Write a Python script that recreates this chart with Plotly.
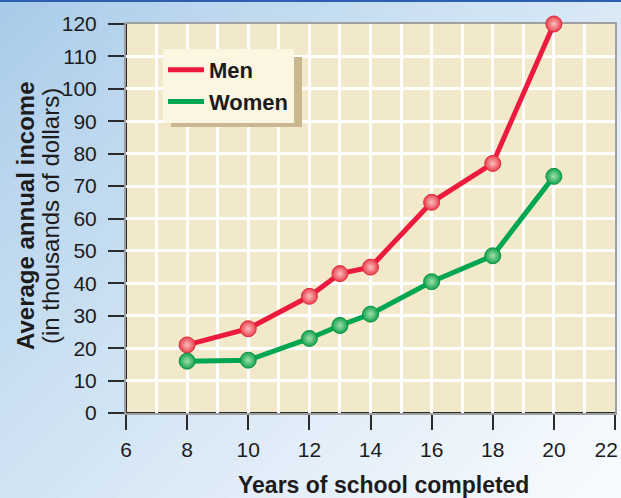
import plotly.graph_objects as go

years = [8, 10, 12, 13, 14, 16, 18, 20]
men = [21, 26, 36, 43, 45, 65, 77, 120]
women = [16, 16.3, 23, 27, 30.5, 40.5, 48.5, 73]
x_ticks = [6, 8, 10, 12, 14, 16, 18, 20, 22]
x_labels = ["6", "8", "10", "12", "14", "16", "18", "20", "22\u00a0\u00a0\u00a0"]
y_ticks = [0, 10, 20, 30, 40, 50, 60, 70, 80, 90, 100, 110, 120]

W, H = 621, 498
L, R, T, B = 126, 6, 24, 85
PW, PH = W - L - R, H - T - B


def px(x):
    return (x - L) / PW


def py(y):
    return (H - B - y) / PH


def lerp(c1, c2, t):
    return "#%02x%02x%02x" % tuple(int(round(a + (b - a) * t)) for a, b in zip(c1, c2))


shapes = []
# diagonal gradient background
N = 40
cmax = W + H
c_start = (168, 203, 233)
c_end = (248, 251, 254)
for i in range(N):
    c0 = cmax * i / N - 2
    c1 = cmax * (i + 1) / N + 2
    t = min(1.0, (i / (N - 1)) ** 0.85)
    col = lerp(c_start, c_end, t)
    pts = [(c0, 0), (c1, 0), (c1 - 700, 700), (c0 - 700, 700)]
    path = "M " + " L ".join(f"{px(a):.5f},{py(b):.5f}" for a, b in pts) + " Z"
    shapes.append(dict(type="path", xref="paper", yref="paper", path=path,
                       fillcolor=col, line=dict(width=0), layer="below"))
# top blue rule
shapes.append(dict(type="rect", xref="paper", yref="paper", x0=px(0), x1=px(W),
                   y0=py(2), y1=py(0), fillcolor="#2d5fae", line=dict(width=0), layer="below"))
# plot area bg
shapes.append(dict(type="rect", xref="paper", yref="paper", x0=0, x1=1, y0=0, y1=1,
                   fillcolor="#f1e9c9", line=dict(width=0), layer="below"))
# legend shadow
shapes.append(dict(type="rect", xref="paper", yref="paper", x0=px(171), x1=px(302),
                   y0=py(127), y1=py(57), fillcolor="#c9b78f", line=dict(width=0), layer="above"))
# dark left and bottom axis lines
shapes.append(dict(type="line", xref="paper", yref="paper", x0=0, x1=0, y0=0, y1=1,
                   line=dict(color="#2b2b2b", width=2), layer="below"))
shapes.append(dict(type="line", xref="paper", yref="paper", x0=0, x1=1, y0=0, y1=0,
                   line=dict(color="#2b2b2b", width=2), layer="below"))

MEN_C, WOMEN_C = "#ec1b3e", "#00a651"

fig = go.Figure()
fig.add_trace(go.Scatter(
    x=years, y=men, name="Men", mode="lines+markers", cliponaxis=False, showlegend=False,
    line=dict(color=MEN_C, width=5),
    marker=dict(size=16, color="#ea3f4c", line=dict(color="#e02a3c", width=1),
                gradient=dict(type="radial", color="#fcc0c0")),
))
fig.add_trace(go.Scatter(
    x=years, y=women, name="Women", mode="lines+markers", cliponaxis=False, showlegend=False,
    line=dict(color=WOMEN_C, width=5),
    marker=dict(size=16, color="#13a24c", line=dict(color="#0a9444", width=1),
                gradient=dict(type="radial", color="#a3e0b0")),
))
# legend entries (line only)
fig.add_trace(go.Scatter(x=[None], y=[None], name="<b>Men</b>", mode="lines",
                         line=dict(color=MEN_C, width=5)))
fig.add_trace(go.Scatter(x=[None], y=[None], name="<b>Women</b>", mode="lines",
                         line=dict(color=WOMEN_C, width=5)))

font_fam = "Liberation Sans, Arial, sans-serif"
fig.update_layout(
    width=W, height=H,
    margin=dict(l=L, r=R, t=T, b=B, autoexpand=False),
    paper_bgcolor="#e6f0f8",
    plot_bgcolor="rgba(0,0,0,0)",
    font=dict(family=font_fam, color="#1e1b1c", size=21),
    shapes=shapes,
    showlegend=True,
    legend=dict(x=px(163), y=py(49), xanchor="left", yanchor="top",
                bgcolor="#faf6e2", borderwidth=0, font=dict(size=22, color="#1e1b1c"),
                itemwidth=36, tracegroupgap=0, indentation=0),
    annotations=[
        dict(text="<b>Average annual income</b>", xref="paper", yref="paper",
             x=px(25), y=py(216), xanchor="center", yanchor="middle", textangle=-90,
             showarrow=False, font=dict(size=24, color="#1e1b1c")),
        dict(text="(in thousands of dollars)", xref="paper", yref="paper",
             x=px(50), y=py(216), xanchor="center", yanchor="middle", textangle=-90,
             showarrow=False, font=dict(size=24, color="#1e1b1c")),
        dict(text="<b>Years of school completed</b>", xref="paper", yref="paper",
             x=px(383), y=py(485), xanchor="center", yanchor="middle",
             showarrow=False, font=dict(size=23, color="#1e1b1c")),
    ],
)
fig.update_xaxes(
    range=[6, 22], tickvals=x_ticks, ticktext=x_labels,
    showgrid=True, gridcolor="#ffffff", gridwidth=3,
    minor=dict(dtick=1, showgrid=True, gridcolor="#ffffff", gridwidth=3),
    showline=True, linecolor="#a0a0a0", linewidth=2, mirror=True,
    ticks="outside", ticklen=15, tickwidth=2, tickcolor="#2b2b2b",
    tickfont=dict(size=21), zeroline=False, layer="below traces",
    ticklabelstandoff=2, automargin=False, ticklabeloverflow="allow",
)
fig.update_yaxes(
    range=[0, 120], tickvals=y_ticks, ticktext=[str(v) for v in y_ticks],
    showgrid=True, gridcolor="#ffffff", gridwidth=3,
    showline=True, linecolor="#a0a0a0", linewidth=2, mirror=True,
    ticks="outside", ticklen=16, tickwidth=2, tickcolor="#2b2b2b",
    tickfont=dict(size=21), zeroline=False, layer="below traces",
    ticklabelstandoff=7, automargin=False, ticklabeloverflow="allow",
)

fig.write_html("out.html", config={"displayModeBar": False},
               post_script="document.body.style.margin='0px';document.body.style.padding='0px';")
